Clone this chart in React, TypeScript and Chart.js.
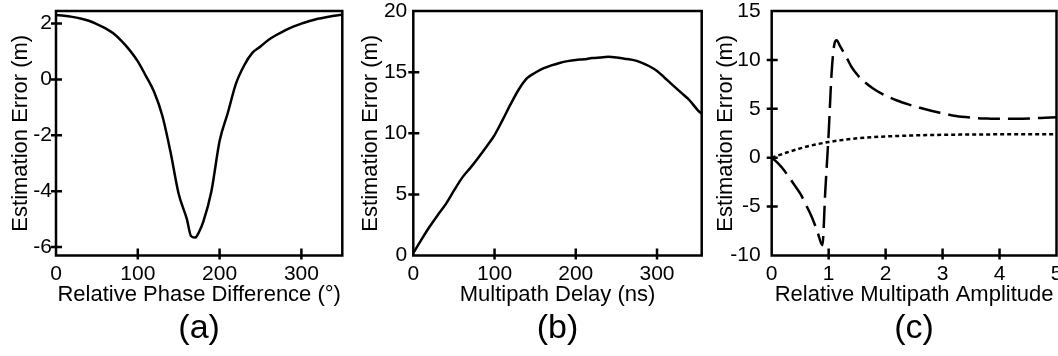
import React, { useEffect, useRef } from "react";
import { Chart, registerables } from "chart.js";

Chart.register(...registerables);

// ---------- data ----------
const phaseDeg = [0, 10, 20, 30, 40, 50, 60, 70, 80, 90, 100, 110, 120, 130, 140, 150, 160, 165, 170, 175, 180, 190, 200, 210, 220, 230, 240, 250, 260, 270, 280, 290, 300, 310, 320, 330, 340, 350];
const phaseError = [2.3, 2.28, 2.24, 2.18, 2.1, 1.98, 1.84, 1.65, 1.38, 1.05, 0.65, 0.12, -0.45, -1.3, -2.6, -4.1, -5.0, -5.6, -5.66, -5.45, -5.1, -4.0, -2.2, -1.2, -0.15, 0.5, 0.95, 1.18, 1.42, 1.6, 1.76, 1.89, 2.0, 2.09, 2.17, 2.23, 2.28, 2.32];

const delayNs = [0, 10, 20, 30, 40, 50, 60, 70, 80, 90, 100, 110, 120, 130, 140, 150, 160, 170, 180, 190, 200, 210, 220, 230, 240, 250, 260, 270, 280, 290, 300, 310, 320, 330, 340, 350, 355];
const delayError = [0.2, 1.3, 2.35, 3.3, 4.2, 5.3, 6.35, 7.15, 8.0, 8.9, 9.85, 11.1, 12.4, 13.6, 14.5, 14.95, 15.3, 15.55, 15.75, 15.9, 16.0, 16.05, 16.15, 16.2, 16.25, 16.2, 16.1, 16.0, 15.8, 15.5, 15.1, 14.5, 13.9, 13.3, 12.7, 11.9, 11.6];

const ampDashedX = [0, 0.1, 0.2, 0.3, 0.4, 0.5, 0.6, 0.7, 0.8, 0.89, 0.94, 1.0, 1.05, 1.1, 1.14, 1.2, 1.3, 1.4, 1.5, 1.6, 1.8, 2.0, 2.2, 2.4, 2.6, 2.8, 3.0, 3.2, 3.4, 3.6, 3.8, 4.0, 4.2, 4.4, 4.6, 4.8, 5.0];
const ampDashedY = [0, -0.5, -1.15, -1.95, -2.8, -3.66, -4.8, -6.0, -7.5, -8.95, -3.5, 2.5, 8.5, 11.6, 12.0, 11.4, 10.4, 9.3, 8.5, 7.9, 7.0, 6.35, 5.85, 5.45, 5.1, 4.8, 4.55, 4.3, 4.15, 4.05, 4.0, 3.97, 3.97, 3.99, 4.03, 4.08, 4.13];

const ampDottedX = [0, 0.25, 0.5, 0.75, 1.0, 1.25, 1.5, 1.75, 2.0, 2.5, 3.0, 3.5, 4.0, 4.5, 5.0];
const ampDottedY = [0, 0.5, 0.95, 1.32, 1.6, 1.82, 1.98, 2.09, 2.17, 2.28, 2.34, 2.37, 2.39, 2.4, 2.4];

const phaseTicks = [0, 100, 200, 300];
const errTicksA = [-6, -4, -2, 0, 2];
const delayTicks = [0, 100, 200, 300];
const errTicksB = [0, 5, 10, 15, 20];
const ampTicks = [0, 1, 2, 3, 4, 5];
const errTicksC = [-10, -5, 0, 5, 10, 15];

const yTitle = "Estimation Error (m)";
const xTitleA = "Relative Phase Difference (°)";
const xTitleB = "Multipath Delay (ns)";
const xTitleC = "Relative Multipath Amplitude";

// ---------- styling ----------
const FONT = "'Liberation Sans', Arial, Helvetica, sans-serif";
const H = 356;

const framePlugin = {
  id: "frame",
  afterDraw(chart: any) {
    const { ctx, chartArea, scales } = chart;
    const { left, right, top, bottom } = chartArea;
    ctx.save();
    ctx.strokeStyle = "#000";
    ctx.lineWidth = 2.5;
    ctx.strokeRect(left, top, right - left, bottom - top);
    ctx.beginPath();
    scales.x.ticks.forEach((t: any) => {
      const p = scales.x.getPixelForValue(t.value);
      if (Math.abs(p - left) < 1.5 || Math.abs(p - right) < 1.5) return;
      ctx.moveTo(p, bottom - 7);
      ctx.lineTo(p, bottom + 4);
    });
    scales.y.ticks.forEach((t: any) => {
      const p = scales.y.getPixelForValue(t.value);
      if (Math.abs(p - top) < 1.5 || Math.abs(p - bottom) < 1.5) return;
      ctx.moveTo(left - 5, p);
      ctx.lineTo(left + 6, p);
    });
    ctx.stroke();
    ctx.restore();
  },
};

type Series = { xs: number[]; ys: number[]; dash?: number[] };

type PanelSpec = {
  series: Series[];
  xMin: number;
  xMax: number;
  yMin: number;
  yMax: number;
  xTicks: number[];
  yTicks: number[];
  xTitle: string;
  label: string;
  yAxisWidth: number;
  padRight: number;
  yTickPad: number;
  yTitlePad: number;
};

function zeroPad(s: any) {
  s.paddingLeft = 0;
  s.paddingRight = 0;
  s.paddingTop = 0;
  s.paddingBottom = 0;
}

function buildConfig(p: PanelSpec): any {
  return {
    type: "line",
    data: {
      datasets: p.series.map((s) => ({
        data: s.xs.map((x, i) => ({ x, y: s.ys[i] })),
        borderColor: "#000",
        borderWidth: 2.5,
        borderDash: s.dash || [],
        pointRadius: 0,
        fill: false,
        cubicInterpolationMode: "monotone",
      })),
    },
    options: {
      responsive: false,
      animation: false,
      events: [],
      layout: { padding: { left: 0, right: p.padRight, top: 11, bottom: 0 } },
      plugins: {
        legend: { display: false },
        tooltip: { enabled: false },
        title: {
          display: true,
          position: "bottom",
          fullSize: false,
          text: p.label,
          color: "#000",
          font: { family: FONT, size: 34, weight: "normal", lineHeight: 1.2 },
          padding: { top: 0, bottom: 6.7 },
        },
      },
      scales: {
        x: {
          type: "linear",
          position: "bottom",
          min: p.xMin,
          max: p.xMax,
          grid: { display: false, drawTicks: false },
          border: { display: false },
          ticks: {
            color: "#000",
            font: { family: FONT, size: 21, lineHeight: 1.2 },
            padding: 6,
            maxRotation: 0,
            autoSkip: false,
            callback: (v: any) => String(v),
          },
          title: {
            display: true,
            text: p.xTitle,
            color: "#000",
            font: { family: FONT, size: 22, lineHeight: 1.2 },
            padding: { top: 0, bottom: 0 },
          },
          afterBuildTicks: (s: any) => {
            s.ticks = p.xTicks.map((v) => ({ value: v }));
          },
          afterFit: (s: any) => {
            s.height = 53;
            zeroPad(s);
          },
        },
        y: {
          type: "linear",
          position: "left",
          min: p.yMin,
          max: p.yMax,
          grid: { display: false, drawTicks: false },
          border: { display: false },
          ticks: {
            color: "#000",
            font: { family: FONT, size: 21, lineHeight: 1.2 },
            padding: p.yTickPad,
            autoSkip: false,
            callback: (v: any) => String(v),
          },
          title: {
            display: true,
            text: yTitle,
            color: "#000",
            font: { family: FONT, size: 22, lineHeight: 1.2 },
            padding: { top: p.yTitlePad, bottom: 0 },
          },
          afterBuildTicks: (s: any) => {
            s.ticks = p.yTicks.map((v) => ({ value: v }));
          },
          afterFit: (s: any) => {
            s.width = p.yAxisWidth;
            zeroPad(s);
          },
        },
      },
    },
    plugins: [framePlugin],
  };
}

function Panel({ left, width, spec }: { left: number; width: number; spec: PanelSpec }) {
  const ref = useRef<HTMLCanvasElement>(null);
  useEffect(() => {
    const chart = new Chart(ref.current as HTMLCanvasElement, buildConfig(spec));
    return () => chart.destroy();
  }, []);
  return (
    <canvas
      ref={ref}
      width={width}
      height={H}
      style={{ position: "absolute", left, top: 0, width, height: H, display: "block" }}
    />
  );
}

const specA: PanelSpec = {
  series: [{ xs: phaseDeg, ys: phaseError }],
  xMin: 0,
  xMax: 350,
  yMin: -6.3,
  yMax: 2.45,
  xTicks: phaseTicks,
  yTicks: errTicksA,
  xTitle: xTitleA,
  label: "(a)",
  yAxisWidth: 56,
  padRight: 7.7,
  yTickPad: 4,
  yTitlePad: 7.5,
};

const specB: PanelSpec = {
  series: [{ xs: delayNs, ys: delayError }],
  xMin: 0,
  xMax: 355,
  yMin: 0,
  yMax: 20,
  xTicks: delayTicks,
  yTicks: errTicksB,
  xTitle: xTitleB,
  label: "(b)",
  yAxisWidth: 63.3,
  padRight: 8.3,
  yTickPad: 6,
  yTitlePad: 7.5,
};

const specC: PanelSpec = {
  series: [
    { xs: ampDashedX, ys: ampDashedY, dash: [22, 8] },
    { xs: ampDottedX, ys: ampDottedY, dash: [4, 3] },
  ],
  xMin: 0,
  xMax: 5,
  yMin: -10,
  yMax: 15,
  xTicks: ampTicks,
  yTicks: errTicksC,
  xTitle: xTitleC,
  label: "(c)",
  yAxisWidth: 61.7,
  padRight: 1.5,
  yTickPad: 11,
  yTitlePad: 2.5,
};

export default function App() {
  return (
    <div
      style={{
        position: "absolute",
        left: 0,
        top: 0,
        width: 1058,
        height: H,
        background: "#fff",
        overflow: "hidden",
      }}
    >
      <Panel left={0} width={350} spec={specA} />
      <Panel left={350} width={360} spec={specB} />
      <Panel left={710} width={348} spec={specC} />
    </div>
  );
}
